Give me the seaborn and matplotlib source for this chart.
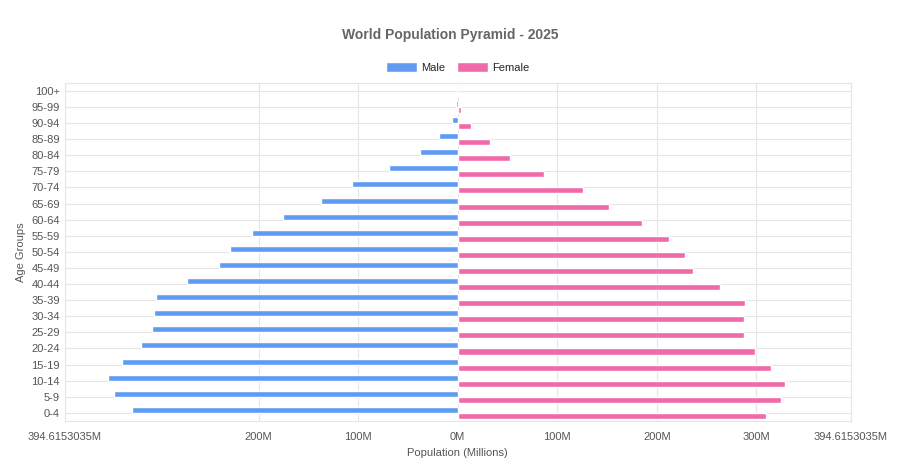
import matplotlib
matplotlib.use("Agg")
import matplotlib.pyplot as plt
import seaborn as sns
import pandas as pd
from matplotlib.ticker import FixedLocator

ages = ["0-4","5-9","10-14","15-19","20-24","25-29","30-34","35-39","40-44","45-49",
        "50-54","55-59","60-64","65-69","70-74","75-79","80-84","85-89","90-94","95-99","100+"]
male = [327,345,351,337,318,307,305,303,272,240,229,207,175,137,106,69,38,19,6,1.5,0.2]
female = [310,325,329,315,299,288,288,289,264,236,228,212,185,152,126,87,53,32,13,3,0.5]
xmax = 394.6153035

df = pd.DataFrame({
    "age": ages*2,
    "value": [-m for m in male] + female,
    "sex": ["Male"]*len(ages) + ["Female"]*len(ages),
})
order = ages[::-1]

sns.set_style("white")
plt.rcParams['font.family'] = ['Liberation Sans', 'DejaVu Sans']
fig, ax = plt.subplots(figsize=(9, 4.73), dpi=100)
fig.subplots_adjust(left=0.072, right=0.945, top=0.825, bottom=0.11)
sns.barplot(data=df, y="age", x="value", hue="sex", order=order, hue_order=["Male","Female"],
            palette={"Male":"#5f9bf3","Female":"#f06aa9"}, orient="h", width=0.75,
            dodge=True, ax=ax, saturation=1)
ax.set_xlim(-xmax, xmax)
ticks = [-xmax, -200, -100, 0, 100, 200, 300, xmax]
ax.xaxis.set_major_locator(FixedLocator(ticks))
ax.set_xticklabels(["394.6153035M","200M","100M","0M","100M","200M","300M","394.6153035M"],
                   fontsize=8, color="#555555")
ax.tick_params(axis="y", labelsize=8, colors="#555555", length=0)
ax.tick_params(axis="x", length=0, pad=8)
ax.grid(True, color="#e6e6e6", linewidth=0.8)
ax.set_axisbelow(True)
for s in ax.spines.values():
    s.set_color("#e6e6e6")
ax.set_xlabel("Population (Millions)", fontsize=8, color="#555555")
ax.set_ylabel("Age Groups", fontsize=8, color="#555555")
ax.legend(loc="lower center", bbox_to_anchor=(0.5, 1.0), ncol=2, frameon=False, fontsize=8,
          handlelength=2.8, handleheight=1.1, columnspacing=1.0, handletextpad=0.4)
fig.suptitle("World Population Pyramid - 2025", fontsize=10, fontweight="bold", color="#666666", y=0.94)
fig.savefig("out.png")
